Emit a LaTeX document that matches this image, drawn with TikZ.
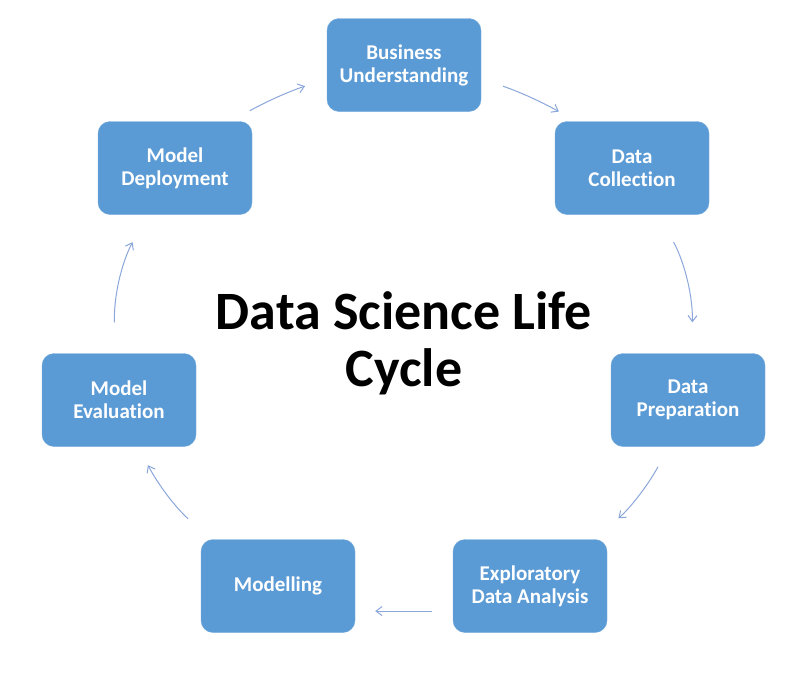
\documentclass[tikz,border=0pt]{standalone}
\usepackage{fontspec}
\setmainfont{Carlito}[Ligatures=NoCommon]
\usepackage{xcolor}
\usetikzlibrary{arrows.meta}
\definecolor{stepblue}{HTML}{5B9BD5}
\definecolor{arrowblue}{HTML}{8AA6DA}
\tikzset{>={Straight Barb[length=6pt,width=9pt]}}
\tikzset{
  stage/.style={draw=stepblue!85!white,fill=stepblue,rounded corners=12pt,
    minimum width=154pt,minimum height=93pt,inner sep=0pt,align=center,
    text=white,font=\fontsize{21}{23}\selectfont\bfseries},
  flow/.style={->,arrowblue,line width=1pt}
}

\begin{document}
\begin{tikzpicture}[x=1pt,y=-1pt]
      \useasboundingbox (0,0) rectangle (798,686);
      \node[stage] (bu)  at (404,65)  {Business\\Understanding};
      \node[stage] (dc)  at (632,168) {Data\\Collection};
      \node[stage] (dp)  at (688,400) {Data\\Preparation};
      \node[stage] (eda) at (530,586) {Exploratory\\Data Analysis};
      \node[stage] (mod) at (278,586) {Modelling};
      \node[stage] (me)  at (119,400) {Model\\Evaluation};
      \node[stage] (md)  at (175,168) {Model\\Deployment};
      \node[align=center,font=\fontsize{54}{57}\selectfont\bfseries] (title) at (404,343) {Data Science Life\\Cycle};
      \draw[flow,shorten <=23pt,shorten >=20pt] (bu.-10) to[bend left=5] (dc.140);
      \draw[flow,shorten <=31pt,shorten >=31pt] (dc.-60) to[bend left=15] (dp.86);
      \draw[flow,shorten <=23pt,shorten >=32pt] (dp.-112) to[bend left=10] (eda.36);
      \draw[flow,shorten <=21pt,shorten >=20pt] (eda.198) to (mod.-18);
      \draw[flow,shorten <=31pt,shorten >=21pt] (mod.145) to[bend left=10] (me.-68);
      \draw[flow,shorten <=31pt,shorten >=31pt] (me.94) to[bend left=15] (md.239);
      \draw[flow,shorten <=22pt,shorten >=23pt] (md.40) to[bend left=5] (bu.190);
    \end{tikzpicture}
\end{document}
